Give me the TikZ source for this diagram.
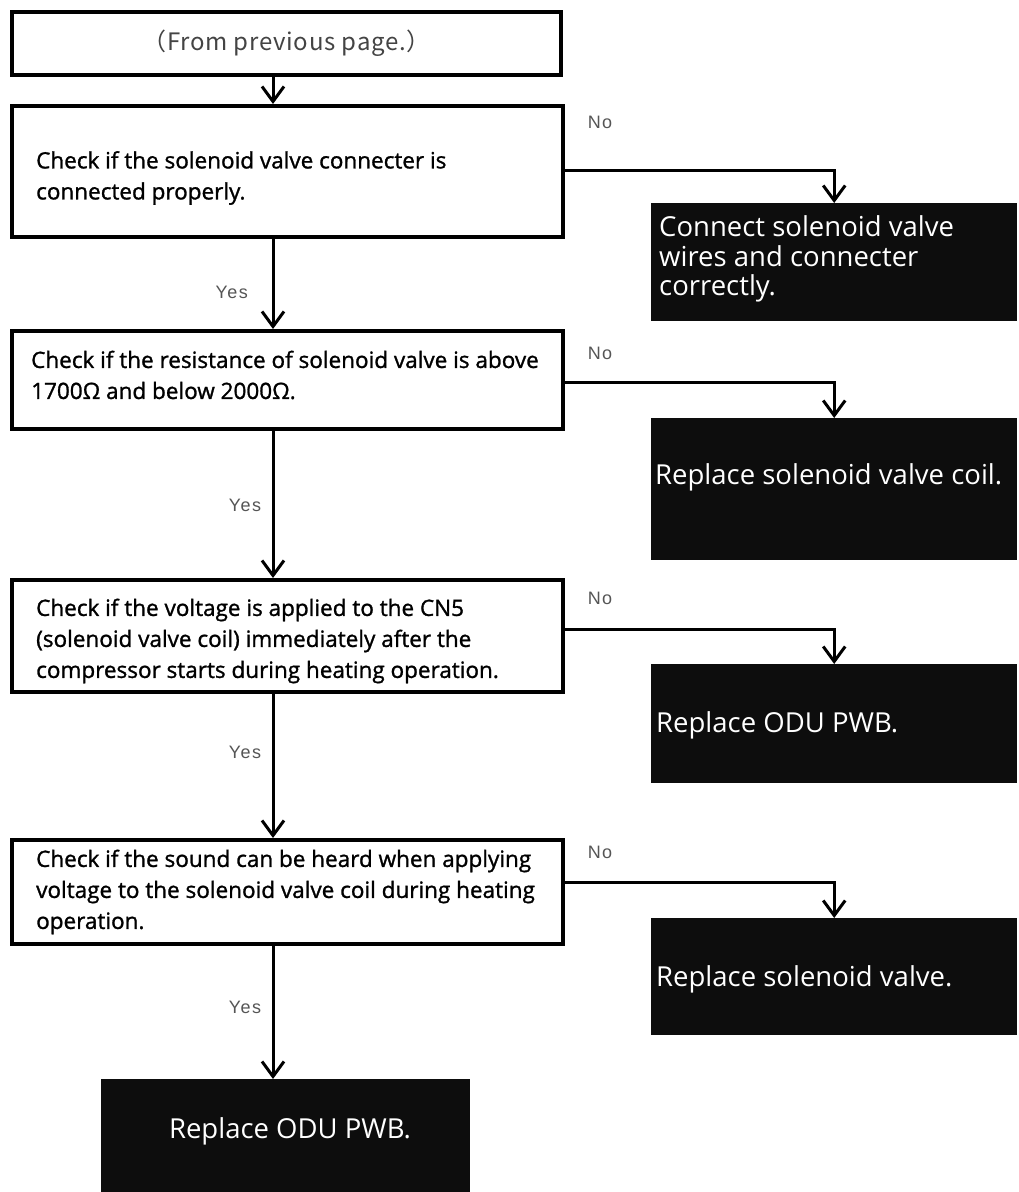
\documentclass[tikz,border=0pt]{standalone}
\usepackage{fontspec}
\setmainfont{Open Sans}
\newfontfamily\chkfont{Open Sans}[FakeBold=1.2]
\newfontfamily\lblfont{Liberation Sans}[LetterSpace=8]
\newfontfamily\cjk{Noto Sans CJK JP}[LetterSpace=3]
\usetikzlibrary{arrows.meta}
\definecolor{lblgray}{HTML}{555555}
\definecolor{topgray}{HTML}{444444}
\definecolor{blk}{HTML}{0D0D0D}
\begin{document}
\begin{tikzpicture}[x=1pt,y=-1pt,
  chk/.style={draw=black, line width=4pt, fill=white, rectangle, inner sep=0pt,
    minimum width=551pt, anchor=north west},
  chktxt/.style={anchor=west, inner sep=0pt, align=left,
    font=\chkfont\fontsize{22.5}{31}\selectfont},
  res/.style={fill=blk, rectangle, inner sep=0pt, minimum width=366pt, anchor=north west},
  restxt/.style={anchor=west, inner sep=0pt, align=left, text=white,
    font=\fontsize{27.5}{29.5}\selectfont},
  lbl/.style={text=lblgray, font=\lblfont\fontsize{18}{20}\selectfont, inner sep=0pt},
  conn/.style={line width=3pt, -{Straight Barb[length=15pt,width=22pt]}}
]
\useasboundingbox (0,0) rectangle (1019,1192);

% main column coordinate
\coordinate (ax) at (273,0);

% start box
\node[draw=black, line width=4pt, fill=white, rectangle, inner sep=0pt, anchor=north west,
  minimum width=549pt, minimum height=63pt, text=topgray,
  font=\cjk\fontsize{24}{28}\selectfont] (top) at (10,10) {（From previous page.）};

% check boxes
\node[chk, minimum height=131pt] (b2) at (10,104) {};
\node[chktxt] (b2t) at (36,178) {Check if the solenoid valve connecter is\\connected properly.};
\node[chk, minimum height=98pt] (b3) at (10,329) {};
\node[chktxt] (b3t) at (31,375) {Check if the resistance of solenoid valve is above\\1700Ω and below 2000Ω.};
\node[chk, minimum height=112pt] (b4) at (10,578) {};
\node[chktxt] (b4t) at (36,641) {Check if the voltage is applied to the CN5\\(solenoid valve coil) immediately after the\\compressor starts during heating operation.};
\node[chk, minimum height=104pt] (b5) at (10,838) {};
\node[chktxt] (b5t) at (36,892) {Check if the sound can be heard when applying\\voltage to the solenoid valve coil during heating\\operation.};

% result boxes
\node[res, minimum height=118pt] (r1) at (651,203) {};
\node[restxt] (r1t) at (659,259) {Connect solenoid valve\\wires and connecter\\correctly.};
\node[res, minimum height=142pt] (r2) at (651,418) {};
\node[restxt] (r2t) at (655,477) {Replace solenoid valve coil.};
\node[res, minimum height=119pt] (r3) at (651,664) {};
\node[restxt] (r3t) at (656,725) {Replace ODU PWB.};
\node[res, minimum height=117pt] (r4) at (651,918) {};
\node[restxt] (r4t) at (656,979) {Replace solenoid valve.};
\node[res, minimum width=369pt, minimum height=114pt] (r5) at (101,1079) {};
\node[restxt, anchor=center] (r5t) at (290,1131) {Replace ODU PWB.};

% labels
\node[lbl, anchor=east] (y1) at (248,292) {Yes};
\node[lbl] (y2) at (245,505) {Yes};
\node[lbl] (y3) at (245,752) {Yes};
\node[lbl] (y4) at (245,1007) {Yes};
\node[lbl] (n1) at (600,122) {No};
\node[lbl] (n2) at (600,353) {No};
\node[lbl] (n3) at (600,598) {No};
\node[lbl] (n4) at (600,852) {No};

% connectors: main column
\draw[conn] (top.south -| ax) -- (b2.north -| ax);
\draw[conn] (b2.south -| ax) -- (b3.north -| ax);
\draw[conn] (b3.south -| ax) -- (b4.north -| ax);
\draw[conn] (b4.south -| ax) -- (b5.north -| ax);
\draw[conn] (b5.south -| ax) -- (r5.north -| ax);

% connectors: No branches
\draw[conn] ([yshift=1.5pt]b2.east) -| (r1.north);
\draw[conn] ([yshift=-2pt]b3.east) -| (r2.north);
\draw[conn] ([yshift=7pt]b4.east) -| (r3.north);
\draw[conn] ([yshift=10pt]b5.east) -| (r4.north);
\end{tikzpicture}
\end{document}
